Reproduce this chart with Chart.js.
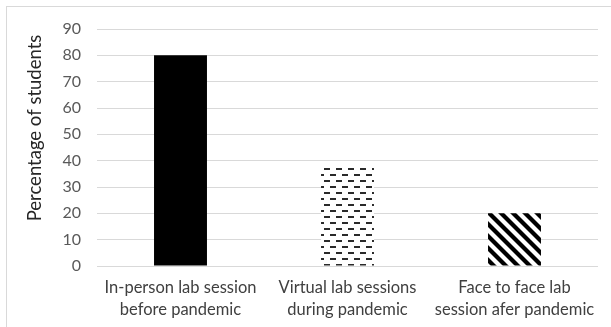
<!DOCTYPE html>
<html>
<head>
<meta charset="utf-8">
<script src="https://cdn.jsdelivr.net/npm/chart.js@4"></script>
<style>
  html, body { margin: 0; padding: 0; background: #fff; }
  #wrap { width: 611px; height: 327px; position: relative; }
</style>
</head>
<body>
<div id="wrap"><canvas id="labChart" width="611" height="327"></canvas></div>
<script>
const categories = [
  ['In-person lab session', 'before pandemic'],
  ['Virtual lab sessions', 'during pandemic'],
  ['Face to face lab', 'session afer pandemic']
];
const percentages = [80, 38, 20];
const yTicks = [0, 10, 20, 30, 40, 50, 60, 70, 80, 90];
const yTitle = 'Percentage of students';

const FONT = 'Lato, "Open Sans", sans-serif';

function makeTile(size, draw) {
  const c = document.createElement('canvas');
  c.width = size;
  c.height = size;
  const g = c.getContext('2d');
  g.fillStyle = '#fff';
  g.fillRect(0, 0, size, size);
  draw(g);
  return document.createElement('canvas').getContext('2d').createPattern(c, 'repeat');
}

// dashed horizontal
const dashPattern = makeTile(12, g => {
  g.fillStyle = '#2a2a2a';
  g.fillRect(0, 0, 6, 2);
  g.fillRect(6, 6, 6, 2);
});

// wide downward diagonal
const diagPattern = makeTile(12, g => {
  g.strokeStyle = '#000';
  g.lineWidth = 4.2;
  [[-1, -1, 13, 13], [-7, 5, 7, 19], [5, -7, 19, 7]].forEach(([x1, y1, x2, y2]) => {
    g.beginPath();
    g.moveTo(x1, y1);
    g.lineTo(x2, y2);
    g.stroke();
  });
});

const frame = {
  id: 'frame',
  beforeDraw(chart) {
    const ctx = chart.ctx;
    ctx.save();
    ctx.fillStyle = '#fff';
    ctx.fillRect(0, 0, chart.width, chart.height);
    ctx.strokeStyle = '#d9d9d9';
    ctx.lineWidth = 1;
    ctx.strokeRect(6.5, 6.5, chart.width + 10, chart.height + 10);
    ctx.restore();
  },
  afterDraw(chart) {
    const ctx = chart.ctx;
    ctx.save();
    ctx.translate(35, 128);
    ctx.rotate(-Math.PI / 2);
    ctx.fillStyle = '#262626';
    ctx.font = '18.5px ' + FONT;
    ctx.textAlign = 'center';
    ctx.textBaseline = 'middle';
    ctx.fillText(yTitle, 0, 0);
    ctx.restore();
  }
};

new Chart(document.getElementById('labChart'), {
  type: 'bar',
  data: {
    labels: categories,
    datasets: [{
      data: percentages,
      backgroundColor: ['#000', dashPattern, diagPattern],
      borderWidth: 0,
      barPercentage: 0.317,
      categoryPercentage: 1
    }]
  },
  options: {
    responsive: false,
    animation: false,
    devicePixelRatio: 1,
    layout: { padding: { left: 0, top: 29, right: 13, bottom: 0 } },
    plugins: {
      legend: { display: false },
      tooltip: { enabled: false }
    },
    scales: {
      x: {
        grid: { display: false },
        border: { display: false },
        ticks: {
          color: '#404040',
          font: { family: FONT, size: 16.5, lineHeight: 1.33 },
          padding: 3,
          maxRotation: 0,
          autoSkip: false
        },
        afterFit: s => { s.height = 61; }
      },
      y: {
        min: 0,
        max: 90,
        afterBuildTicks: s => { s.ticks = yTicks.map(v => ({ value: v })); },
        grid: { color: '#d9d9d9', drawTicks: false },
        border: { display: false },
        ticks: {
          color: '#595959',
          font: { family: FONT, size: 16 },
          padding: 16
        },
        afterFit: s => { s.width = 97; }
      }
    }
  },
  plugins: [frame]
});
</script>
</body>
</html>
